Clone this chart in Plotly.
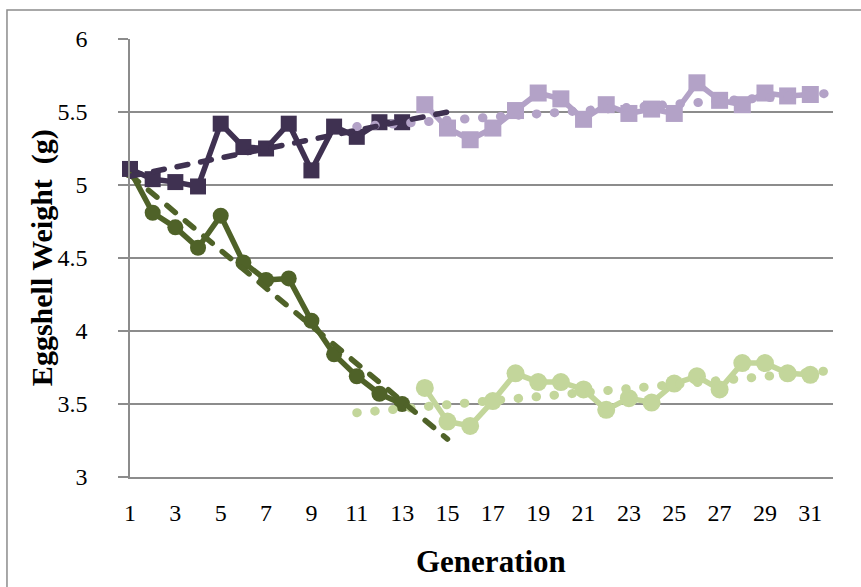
import plotly.graph_objects as go

# Generations
gen_early = list(range(1, 14))
gen_late = list(range(14, 32))

# Eggshell weight (g)
purple_early = [5.11, 5.04, 5.02, 4.99, 5.42, 5.26, 5.25, 5.42, 5.10, 5.40, 5.33, 5.43, 5.43]
purple_late = [5.55, 5.39, 5.31, 5.39, 5.51, 5.63, 5.59, 5.45, 5.55, 5.49, 5.52, 5.49, 5.70,
               5.58, 5.55, 5.63, 5.61, 5.62]
green_early = [5.10, 4.81, 4.71, 4.57, 4.79, 4.47, 4.35, 4.36, 4.07, 3.84, 3.69, 3.57, 3.50]
green_late = [3.61, 3.38, 3.35, 3.52, 3.71, 3.65, 3.65, 3.60, 3.46, 3.54, 3.51, 3.64, 3.69,
              3.60, 3.78, 3.78, 3.71, 3.70]

# Linear trend lines (end points)
trend_early_gen = [1, 15]
trend_purple_early = [5.06, 5.50]
trend_green_early = [5.07, 3.26]
trend_late_gen = [11, 32]
trend_purple_late = [5.40, 5.63]
trend_green_late = [3.44, 3.73]

x_tickvals = list(range(1, 32, 2))
y_tickvals = [3, 3.5, 4, 4.5, 5, 5.5, 6]

C_DP = "#3F3151"
C_LP = "#B3A2C7"
C_DG = "#4F6228"
C_LG = "#C3D69B"
GRID = "#8C8C8C"
SERIF = "Liberation Serif, Times New Roman, serif"

fig = go.Figure()

def series(x, y, color, symbol, size):
    fig.add_trace(go.Scatter(
        x=x, y=y, mode="lines+markers", cliponaxis=False,
        line=dict(color=color, width=5.5),
        marker=dict(color=color, symbol=symbol, size=size, line=dict(width=0)),
        showlegend=False, hoverinfo="x+y"))

series(gen_early, green_early, C_DG, "circle", 16)
series(gen_late, green_late, C_LG, "circle", 18)
series(gen_early, purple_early, C_DP, "square", 16)
series(gen_late, purple_late, C_LP, "square", 17)

def trend(x, y, color, dash, width):
    fig.add_trace(go.Scatter(
        x=x, y=y, mode="lines", cliponaxis=False,
        line=dict(color=color, width=width, dash=dash),
        showlegend=False, hoverinfo="skip"))

trend(trend_late_gen, trend_green_late, C_LG, "0.5px,17.5px", 9)
trend(trend_late_gen, trend_purple_late, C_LP, "0.5px,17.5px", 9)
trend(trend_early_gen, trend_green_early, C_DG, "11px,13px", 5.5)
trend(trend_early_gen, trend_purple_early, C_DP, "11px,13px", 5.5)

fig.update_layout(
    width=861, height=587,
    margin=dict(l=130, r=28, t=39, b=110),
    paper_bgcolor="white", plot_bgcolor="white",
    showlegend=False,
    xaxis=dict(range=[1, 32], tickvals=x_tickvals, ticktext=[str(v) for v in x_tickvals],
               showgrid=False, zeroline=False, showline=True, linecolor=GRID, linewidth=1.5,
               ticks="", ticklabelstandoff=13,
               tickfont=dict(family=SERIF, size=24, color="black")),
    yaxis=dict(range=[3, 6], tickvals=y_tickvals, ticktext=["3", "3.5", "4", "4.5", "5", "5.5", "6"],
               showgrid=True, gridcolor=GRID, gridwidth=1.5, zeroline=False,
               showline=True, linecolor=GRID, linewidth=1.5,
               ticks="outside", ticklen=10, tickcolor=GRID, tickwidth=1.5, ticklabelstandoff=26,
               tickfont=dict(family=SERIF, size=24, color="black")),
    annotations=[
        dict(text="<b>Generation</b>", xref="paper", yref="paper", x=0.5135, y=-0.192,
             xanchor="center", yanchor="middle", showarrow=False,
             font=dict(family=SERIF, size=31, color="black")),
        dict(text="<b>Eggshell Weight\u00a0\u00a0(g)</b>", xref="paper", yref="paper",
             x=-0.125, y=0.50, textangle=-90, xanchor="center", yanchor="middle",
             showarrow=False, font=dict(family=SERIF, size=30, color="black")),
    ],
    shapes=[dict(type="rect", xref="paper", yref="paper", x0=-0.175, x1=1.2, y0=-0.4, y1=1.066,
                 line=dict(color=GRID, width=1.5), fillcolor="rgba(0,0,0,0)", layer="below")],
)

post = ("document.body.style.margin='0';"
        "var s=document.createElement('style');"
        "s.innerHTML='body{margin:0 !important;} .js-line{stroke-linecap:round !important;stroke-linejoin:round !important;}';"
        "document.head.appendChild(s);")
fig.write_html("out.html", post_script=post, config={"displayModeBar": False})
